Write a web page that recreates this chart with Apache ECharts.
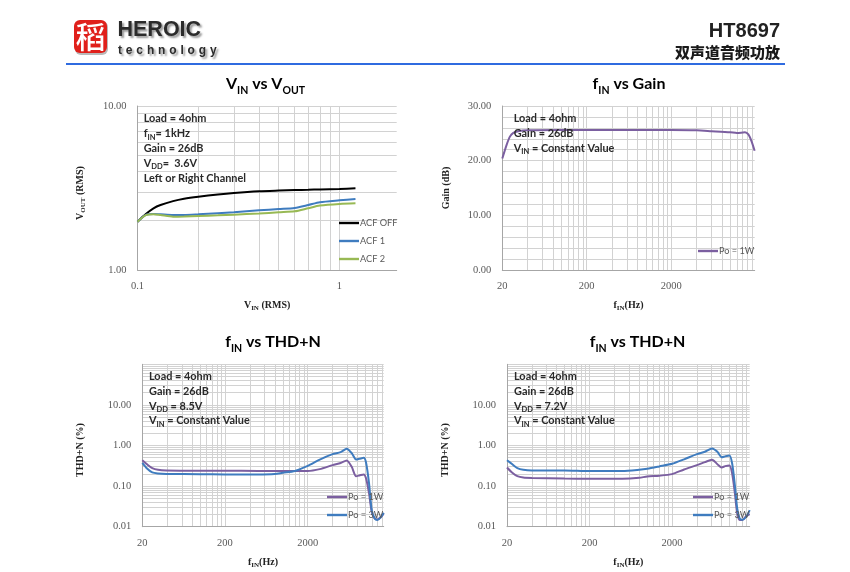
<!DOCTYPE html>
<html><head><meta charset="utf-8">
<style>html,body{margin:0;padding:0;background:#fff}#c{width:850px;height:572px;position:absolute;left:0;top:0;filter:blur(0.45px)}
#tech{position:absolute;left:118px;top:42.5px;font:bold 12px "Liberation Sans";letter-spacing:3.85px;color:#2b2b2b;text-shadow:2px 2px 2px #999;filter:blur(0.4px)}
</style>
<script src="https://cdn.jsdelivr.net/npm/echarts@6/dist/echarts.min.js"></script></head>
<body><div id="c"></div><div id="tech">technology</div>
<script>
var vinX=[0.1,0.11,0.12,0.13,0.15,0.17,0.2,0.25,0.3,0.4,0.5,0.6,0.7,0.8,1,1.2];
var acfOff=[1.97,2.195,2.377,2.49,2.63,2.72,2.80,2.89,2.95,3.02,3.05,3.07,3.085,3.10,3.12,3.15];
var acf1=[1.97,2.17,2.195,2.185,2.165,2.165,2.185,2.22,2.25,2.31,2.355,2.39,2.49,2.59,2.66,2.71];
var acf2=[1.97,2.16,2.19,2.165,2.115,2.12,2.135,2.155,2.175,2.21,2.25,2.28,2.38,2.47,2.53,2.55];
var gainX=[20,22.5,24.6,27,31,40,100,200,2000,4000,6000,10000,12000,14960,16400,17950,19470];
var gain1W=[20.4,22.9,24.4,25.1,25.4,25.55,25.6,25.6,25.6,25.55,25.4,25.2,25.05,25.2,24.8,23.5,21.8];
var thdAX=[20,23,26.4,31,39,100,200,500,800,1000,1400,2000,2800,4000,5000,5930,6810,7690,8430,9510,10160,11040,11890,12900,13930,15270,16600];
var thdA1W=[0.435,0.34,0.277,0.252,0.243,0.24,0.24,0.235,0.235,0.235,0.236,0.236,0.262,0.328,0.37,0.427,0.298,0.176,0.183,0.194,0.155,0.066,0.0234,0.016,0.0151,0.017,0.0213];
var thdA3W=[0.375,0.267,0.217,0.205,0.2,0.197,0.194,0.193,0.198,0.213,0.236,0.316,0.45,0.612,0.685,0.828,0.647,0.453,0.47,0.497,0.375,0.116,0.0257,0.016,0.0146,0.017,0.0221];
var thdBX=[20,23.2,26.7,31.5,40,100,200,500,800,1000,1400,2000,2800,4000,5000,6110,7090,8000,8800,9910,10700,11550,12320,13200,14230,15850,17460];
var thdB1W=[0.288,0.213,0.176,0.163,0.159,0.154,0.152,0.152,0.16,0.173,0.18,0.197,0.257,0.328,0.39,0.445,0.347,0.288,0.31,0.322,0.205,0.066,0.0213,0.0146,0.0146,0.0183,0.0205];
var thdB3W=[0.435,0.345,0.277,0.252,0.243,0.243,0.235,0.235,0.252,0.267,0.305,0.354,0.457,0.612,0.7,0.843,0.7,0.516,0.54,0.564,0.36,0.104,0.0283,0.016,0.0148,0.0176,0.0257];
var vinTicks=[0.1,1], voutTicks=[1,10], freqTicks=[20,200,2000], thdTicks=[0.01,0.1,1,10];
var vinGrid=[0.1,0.2,0.3,0.4,0.5,0.6,0.7,0.8,0.9,1];
var voutGrid=[1,2,3,4,5,6,7,8,9,10];
var freqGrid=[20,40,60,80,100,120,140,160,180,200,400,600,800,1000,1200,1400,1600,1800,2000,4000,6000,8000,10000,12000,14000,16000,18000];
var thdGrid=[0.01,0.02,0.03,0.04,0.05,0.06,0.07,0.08,0.09,0.1,0.2,0.3,0.4,0.5,0.6,0.7,0.8,0.9,1,2,3,4,5,6,7,8,9,10,20,30,40,50,60,70,80,90,100];
var note1=['Load = 4ohm','{n|f}{s|IN}{n|= 1kHz}','Gain = 26dB','{n|V}{s|DD}{n|=  3.6V}','Left or Right Channel'];
var note2=['Load = 4ohm','Gain = 26dB','{n|V}{s|IN}{n| = Constant Value}'];
var note3=['Load = 4ohm','Gain = 26dB','{n|V}{s|DD}{n| = 8.5V}','{n|V}{s|IN}{n| = Constant Value}'];
var note4=['Load = 4ohm','Gain = 26dB','{n|V}{s|DD}{n| = 7.2V}','{n|V}{s|IN}{n| = Constant Value}'];

var BLACK='#000000',BLUE='#3f7cbf',GREEN='#98b954',PURPLE='#7b5fa0',GRID='#d2d2d2',AX='#a6a6a6',LBL='#595959';
var CAL='Lato',SER='"Liberation Serif"';
var rects=[
 {left:137.5,top:106,width:259.2,height:164},
 {left:502.3,top:106,width:252.4,height:164},
 {left:142.3,top:364.3,width:241.4,height:162.4},
 {left:507,top:364.3,width:242.7,height:162.4}];
function pairs(x,y){return x.map(function(v,i){return [v,y[i]];});}
function nameStyle(pad){return {fontFamily:SER,fontWeight:'bold',fontSize:10,color:'#222',padding:pad||0,rich:{n:{fontFamily:SER,fontWeight:'bold',fontSize:10,color:'#222',lineHeight:13},s:{fontFamily:SER,fontWeight:'bold',fontSize:7,color:'#222',lineHeight:8,verticalAlign:'bottom'}}};}
function xAx(i,min,max,ticks,grid,name,gap){return {gridIndex:i,type:'log',logBase:10,min:min,max:max,name:name,nameLocation:'middle',nameGap:gap,nameTextStyle:nameStyle(),
 axisLine:{show:true,onZero:false,lineStyle:{color:AX,width:1}},axisTick:{show:false,customValues:grid},
 axisLabel:{customValues:ticks,margin:11,color:LBL,fontFamily:SER,fontSize:10.5,formatter:function(v){return String(v);},showMinLabel:true,showMaxLabel:true},
 splitLine:{show:true,lineStyle:{color:GRID,width:1}},minorSplitLine:{show:false}};}
function yAx(i,min,max,ticks,grid,name,gap,pad){return {gridIndex:i,type:'log',logBase:10,min:min,max:max,name:name,nameLocation:'middle',nameGap:gap,nameTextStyle:nameStyle(pad),
 axisLine:{show:true,onZero:false,lineStyle:{color:AX,width:1}},axisTick:{show:false,customValues:grid},
 axisLabel:{customValues:ticks,margin:11,color:LBL,fontFamily:SER,fontSize:10.5,formatter:function(v){return Number(v).toFixed(2);},showMinLabel:true,showMaxLabel:true},
 splitLine:{show:true,lineStyle:{color:GRID,width:1}}};}
function line(name,i,x,y,color){return {name:name,type:'line',xAxisIndex:i,yAxisIndex:i,data:pairs(x,y),showSymbol:false,symbol:'none',smooth:0.25,lineStyle:{color:color,width:2},itemStyle:{color:color},z:5,silent:true,animation:false};}
function legend(i,names,left,top){return {data:names.map(function(n){return {name:n,icon:'rect'};}),orient:'vertical',left:left,top:top,itemWidth:20,itemHeight:2.4,itemGap:6,padding:0,selectedMode:false,textStyle:{color:LBL,fontFamily:CAL,fontSize:9.2,lineHeight:12,padding:[0,0,0,-4]},z:6};}
function title(text,cx,cy){return {type:'text',x:cx,y:cy,z:10,style:{text:text,align:'center',verticalAlign:'middle',rich:{n:{fontFamily:CAL,fontWeight:'bold',fontSize:16,color:'#222',lineHeight:24},s:{fontFamily:CAL,fontWeight:'bold',fontSize:10.5,color:'#222',lineHeight:12,verticalAlign:'bottom'}}}};}
function note(lines,x,y){return {type:'text',x:x,y:y,z:10,style:{text:lines.map(function(l){return l.indexOf('{')>=0?l:'{n|'+l+'}';}).join('\n'),align:'left',verticalAlign:'top',rich:{n:{fontFamily:CAL,fontWeight:'bold',fontSize:10.9,fill:'#2a2a2a',lineHeight:14.8},s:{fontFamily:CAL,fontWeight:'bold',fontSize:7.5,fill:'#2a2a2a',lineHeight:10,verticalAlign:'bottom'}}}};}

var chart=echarts.init(document.getElementById('c'),null,{renderer:'canvas'});
chart.setOption({
 animation:false,backgroundColor:'#fff',
 grid:rects.map(function(r){return Object.assign({containLabel:false},r);}),
 xAxis:[
  xAx(0,0.1,1.92,vinTicks,vinGrid,'{n|V}{s|IN}{n| (RMS)}',29),
  xAx(1,20,19500,freqTicks,freqGrid,'{n|f}{s|IN}{n|(Hz)}',29),
  xAx(2,20,16600,freqTicks,freqGrid,'{n|f}{s|IN}{n|(Hz)}',29),
  xAx(3,20,17460,freqTicks,freqGrid,'{n|f}{s|IN}{n|(Hz)}',29)],
 yAxis:[
  yAx(0,1,10,voutTicks,voutGrid,'{n|V}{s|OUT}{n| (RMS)}',51,[0,10,0,0]),
  {gridIndex:1,type:'value',min:0,max:30,interval:10,name:'Gain (dB)',nameLocation:'middle',nameGap:51,nameTextStyle:nameStyle(),
   axisLine:{show:true,lineStyle:{color:AX}},axisTick:{show:false},axisLabel:{margin:11,color:LBL,fontFamily:SER,fontSize:10.5,formatter:function(v){return v.toFixed(2);}},
   splitLine:{show:true,lineStyle:{color:GRID}},minorTick:{show:false,splitNumber:5},minorSplitLine:{show:true,lineStyle:{color:GRID}}},
  yAx(2,0.01,100,thdTicks,thdGrid,'THD+N (%)',57,[0,9,0,0]),
  yAx(3,0.01,100,thdTicks,thdGrid,'THD+N (%)',57,[0,9,0,0])],
 legend:[
  legend(0,['ACF OFF','ACF 1','ACF 2'],339,217),
  legend(1,['Po = 1W '],698,245),
  legend(2,['Po = 1W','Po = 3W'],327,491),
  legend(3,['Po = 1W  ','Po = 3W  '],693,491)],
 series:[
  line('ACF OFF',0,vinX,acfOff,BLACK),line('ACF 1',0,vinX,acf1,BLUE),line('ACF 2',0,vinX,acf2,GREEN),
  line('Po = 1W ',1,gainX,gain1W,PURPLE),
  line('Po = 1W',2,thdAX,thdA1W,PURPLE),line('Po = 3W',2,thdAX,thdA3W,BLUE),
  line('Po = 1W  ',3,thdBX,thdB1W,PURPLE),line('Po = 3W  ',3,thdBX,thdB3W,BLUE)],
 graphic:[
  {type:'rect',shape:{x:66,y:63,width:719,height:2},style:{fill:'#2f6be0'},z:10},
  {type:'rect',shape:{x:75,y:21,width:33,height:34,r:6},style:{fill:'#b9b9b9'},z:9},
  {type:'rect',shape:{x:74,y:20,width:33,height:33,r:6},style:{fill:'#e0201b'},z:10},
  {type:'text',x:90.5,y:37,z:11,style:{text:'稻',align:'center',verticalAlign:'middle',fontFamily:'"Noto Sans CJK SC"',fontSize:30,fontWeight:500,fill:'#fff'}},
  {type:'text',x:117.5,y:30.5,z:11,style:{text:'HEROIC',align:'left',verticalAlign:'middle',fontFamily:'"Liberation Sans"',fontWeight:'bold',fontSize:21.5,fill:'#2b2b2b',textShadowColor:'#999',textShadowBlur:2,textShadowOffsetX:2,textShadowOffsetY:2}},
  {type:'text',x:780,y:31,z:11,style:{text:'HT8697',align:'right',verticalAlign:'middle',fontFamily:'"Liberation Sans"',fontWeight:'bold',fontSize:20,fill:'#222'}},
  {type:'text',x:780,y:52,z:11,style:{text:'双声道音频功放',align:'right',verticalAlign:'middle',fontFamily:'"Noto Sans CJK SC"',fontWeight:900,fontSize:15,fill:'#1a1a1a'}},
  title('{n|V}{s|IN}{n| vs V}{s|OUT}',265.5,84),
  title('{n|f}{s|IN}{n| vs Gain}',629,84),
  title('{n|f}{s|IN}{n| vs THD+N}',273,342),
  title('{n|f}{s|IN}{n| vs THD+N}',637.5,342),
  note(note1,143.7,111.5),
  note(note2,513.7,111.5),
  note(note3,149,369),
  note(note4,514,369)
 ]
});
</script></body></html>
